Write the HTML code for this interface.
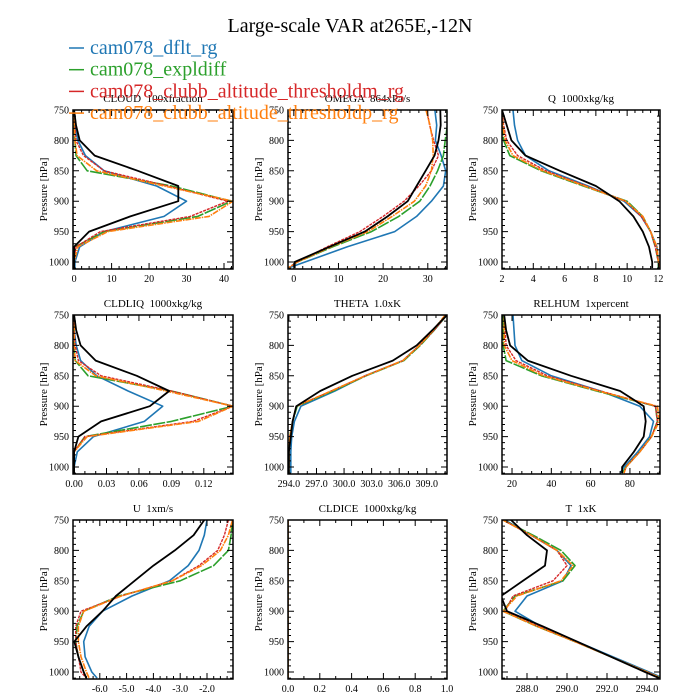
<!DOCTYPE html>
<html><head><meta charset="utf-8">
<style>
html,body{margin:0;padding:0;background:#fff;}
svg{display:block;font-family:"Liberation Serif","DejaVu Serif",serif;}
text{white-space:pre;}
</style></head>
<body>
<svg id="chart" width="700" height="700" viewBox="0 0 700 700" xmlns="http://www.w3.org/2000/svg">
<rect width="700" height="700" fill="#fff"/>
<text x="350" y="32" font-size="20" text-anchor="middle">Large-scale VAR at265E,-12N</text>
<g id="panels"></g>
<g id="legend"></g>
</svg>
<script>
const levels = [750,775,800,825,850,875,900,925,950,975,1000,1010];
const seriesNames = ["cam078_dflt_rg","cam078_expldiff","cam078_clubb_altitude_thresholdm_rg","cam078_clubb_altitude_thresholdp_rg"];

const cloudBlue   = [0,0.2,1,3,8,22,30,24,8,1.5,0.2,0.2];
const cloudGreen  = [0,0,0.2,0.5,3.5,26,42,33,8,0.3,0,0];
const cloudRed    = [0,0.2,0.5,2.5,8,25,41,31,7,0.5,0,0];
const cloudOrange = [0,0,0.2,0.8,6,24,42.4,36,9,1,0,0];
const cloudBlack  = [0,0.5,1.5,5.5,17,27.8,27.8,15,4,0,0,0];
const cloudTicks  = [0,10,20,30,40];

const omegaBlue   = [31.6,32,31.7,33,34,33.5,30.8,27.5,22.6,12,2.5,-1.3];
const omegaGreen  = [34.3,34.4,33.9,33.5,32.2,30.5,28.2,23.5,17.4,8.7,0.8,-1.3];
const omegaRed    = [29.8,30.4,31.3,32.4,30.8,28,24.7,20,14.8,7.5,0.8,-1.3];
const omegaOrange = [29.6,30.5,31.1,31.2,30.8,29.5,27,22,16.6,8.3,0.8,-1.3];
const omegaBlack  = [32.8,32.9,32.4,31.5,29.5,27.5,25.5,21,15.9,8,0.2,0.2];
const omegaTicks  = [0,10,20,30];

const qBlue   = [2.7,2.8,3.0,3.5,5.0,7.5,9.8,10.9,11.5,11.9,12.0,12.0];
const qGreen  = [2.0,2.0,2.1,2.5,4.5,7.2,10.0,11.0,11.5,11.8,12.0,12.0];
const qRed    = [2.0,2.1,2.3,3.0,4.8,7.4,9.9,10.9,11.5,11.8,12.0,12.1];
const qOrange = [2.0,2.05,2.2,2.7,4.6,7.3,9.9,11.0,11.5,11.9,12.0,12.1];
const qBlack  = [2.0,2.3,2.6,3.5,5.7,8.0,9.5,10.4,11.0,11.4,11.6,11.6];
const qTicks  = [2,4,6,8,10,12];

const liqBlue   = [0,0,0.002,0.006,0.021,0.05,0.082,0.065,0.018,0.003,0,0];
const liqGreen  = [0,0,0,0.001,0.013,0.09,0.147,0.09,0.01,0,0,0];
const liqRed    = [0,0,0.001,0.004,0.025,0.09,0.147,0.11,0.01,0,0,0];
const liqOrange = [0,0,0,0.001,0.02,0.085,0.147,0.115,0.012,0,0,0];
const liqBlack  = [0,0.002,0.006,0.02,0.058,0.088,0.07,0.025,0.004,0,0,0];
const liqTicks  = [0,0.03,0.06,0.09,0.12];

const thBlue   = [311.2,309.8,308.2,306.4,302.3,299.0,295.3,294.6,294.3,294.2,294.2,294.2];
const thGreen  = [311.2,309.8,308.3,306.5,302.4,298.8,294.9,294.4,294.1,294.0,294.0,294.0];
const thRed    = [311.2,309.8,308.2,306.4,302.3,298.6,294.8,294.4,294.1,294.0,294.0,294.0];
const thOrange = [311.0,309.7,308.2,306.4,302.3,298.6,294.8,294.4,294.1,294.0,294.0,293.9];
const thBlack  = [311.2,309.6,307.9,305.3,300.9,297.4,294.8,294.4,294.2,294.0,294.0,294.0];
const thTicks  = [294,297,300,303,306,309];

const rhBlue   = [20.5,21,21.5,25,40,65,85,92,90,84,77,75];
const rhGreen  = [15.5,15.5,15.5,17,35,63,93,94,91,85,78,76];
const rhRed    = [16,16.5,17,22,38,65,93,94,91,85,78,77];
const rhOrange = [16,16,16,20,36,64,94,95,91,85,78,77];
const rhBlack  = [16,17,19,28,50,75,87,88,87,82,76,76];
const rhTicks  = [20,40,60,80];

const uBlue   = [-2.0,-2.1,-2.3,-2.7,-3.4,-4.8,-5.9,-6.4,-6.6,-6.55,-6.3,-6.1];
const uGreen  = [-1.05,-1.1,-1.2,-1.75,-3.0,-5.3,-6.6,-6.85,-6.9,-6.8,-6.6,-6.5];
const uRed    = [-1.2,-1.35,-1.6,-2.3,-3.3,-5.2,-6.7,-6.9,-6.9,-6.8,-6.7,-6.5];
const uOrange = [-1.05,-1.2,-1.5,-2.2,-3.3,-5.2,-6.6,-6.8,-6.8,-6.7,-6.5,-6.4];
const uBlack  = [-2.1,-2.5,-3.2,-4.0,-4.7,-5.4,-5.9,-6.5,-6.95,-6.8,-6.6,-6.5];
const uTicks  = [-6,-5,-4,-3,-2];

const iceBlue   = [0,0,0,0,0,0,0,0,0,0,0,0];
const iceGreen  = [0,0,0,0,0,0,0,0,0,0,0,0];
const iceRed    = [0,0,0,0,0,0,0,0,0,0,0,0];
const iceOrange = [0,0,0,0,0,0,0,0,0,0,0,0];
const iceTicks  = [0,0.2,0.4,0.6,0.8,1.0];

const tBlue   = [286.9,288.2,289.5,290.2,289.8,288.0,287.4,288.7,290.5,292.3,294.1,294.8];
const tGreen  = [286.8,288.3,289.7,290.4,289.8,287.4,286.8,288.5,290.4,292.2,294.0,294.7];
const tRed    = [286.8,288.2,289.5,290.0,289.3,287.3,286.9,288.6,290.4,292.2,294.0,294.7];
const tOrange = [286.8,288.2,289.5,290.3,289.7,287.5,286.8,288.5,290.4,292.2,294.0,294.7];
const tBlack  = [287.2,288.0,289.0,288.9,287.8,286.7,287.0,288.8,290.5,292.2,293.9,294.6];
const tTicks  = [288,290,292,294];

const pTicks = [750,800,850,900,950,1000];

const NS = "http://www.w3.org/2000/svg";
const colors = ["#1f77b4","#2ca02c","#d62728","#ff7f0e","#000000"];
const dashes = ["", "12,1.5", "3,1", "6,1,1.5,1", ""];
const widths = [1.6,1.6,1.4,1.6,1.8];
const keys = ["blue","green","red","orange","black"];

const panels = [
 {name:"cloud", title:"CLOUD  100xfraction", col:0,row:0, xmin:-0.3,xmax:42.4, ticks:cloudTicks, minor:2, dec:0, s:[cloudBlue,cloudGreen,cloudRed,cloudOrange,cloudBlack]},
 {name:"omega", title:"OMEGA  864xPa/s", col:1,row:0, xmin:-1.3,xmax:34.3, ticks:omegaTicks, minor:2, dec:0, s:[omegaBlue,omegaGreen,omegaRed,omegaOrange,omegaBlack]},
 {name:"q", title:"Q  1000xkg/kg", col:2,row:0, xmin:2,xmax:12.1, ticks:qTicks, minor:0.5, dec:0, s:[qBlue,qGreen,qRed,qOrange,qBlack]},
 {name:"cldliq", title:"CLDLIQ  1000xkg/kg", col:0,row:1, xmin:-0.001,xmax:0.147, ticks:liqTicks, minor:0.01, dec:2, s:[liqBlue,liqGreen,liqRed,liqOrange,liqBlack]},
 {name:"theta", title:"THETA  1.0xK", col:1,row:1, xmin:293.9,xmax:311.2, ticks:thTicks, minor:1, dec:1, s:[thBlue,thGreen,thRed,thOrange,thBlack]},
 {name:"relhum", title:"RELHUM  1xpercent", col:2,row:1, xmin:14.9,xmax:95.3, ticks:rhTicks, minor:5, dec:0, s:[rhBlue,rhGreen,rhRed,rhOrange,rhBlack]},
 {name:"u", title:"U  1xm/s", col:0,row:2, xmin:-7.0,xmax:-1.03, ticks:uTicks, minor:0.25, dec:1, s:[uBlue,uGreen,uRed,uOrange,uBlack]},
 {name:"cldice", title:"CLDICE  1000xkg/kg", col:1,row:2, xmin:0,xmax:1.0, ticks:iceTicks, minor:0.1, dec:1, s:[iceBlue,iceGreen,iceRed,iceOrange,null]},
 {name:"t", title:"T  1xK", col:2,row:2, xmin:286.75,xmax:294.65, ticks:tTicks, minor:0.5, dec:1, s:[tBlue,tGreen,tRed,tOrange,tBlack]}
];
const lefts=[73,288,502], rights=[233,447,660], tops=[110,315,520];
const PMIN=750, PMAX=1011.5, PH=159;

function mk(tag, attrs, parent){const e=document.createElementNS(NS,tag);for(const k in attrs)e.setAttribute(k,attrs[k]);parent.appendChild(e);return e;}
const root=document.getElementById("panels");

panels.forEach(pn=>{
  const L=lefts[pn.col], R=rights[pn.col], T=tops[pn.row], B=T+PH;
  const xs=v=>L+(v-pn.xmin)/(pn.xmax-pn.xmin)*(R-L);
  const ys=p=>T+(p-PMIN)/(PMAX-PMIN)*PH;
  const g=mk("g",{},root);
  
  
  const title=mk("text",{x:(L+R)/2,y:T-8,"font-size":"11","text-anchor":"middle"},g);
  title.textContent=pn.title;
  
  
  const yl=mk("text",{x:0,y:0,"font-size":"11","text-anchor":"middle",transform:`translate(${L-26},${(T+B)/2}) rotate(-90)`},g);
  yl.textContent="Pressure [hPa]";
  
  
  const clip=mk("clipPath",{id:"clip-"+pn.name},g);
  mk("rect",{x:L,y:T,width:R-L,height:PH},clip);
  const lines=mk("g",{"clip-path":`url(#clip-${pn.name})`},g);
  pn.s.forEach((arr,i)=>{
    if(!arr) return;
    const pts=arr.map((v,j)=>xs(v).toFixed(1)+","+ys(levels[j]).toFixed(1)).join(" ");
    const pl=mk("polyline",{points:pts,fill:"none",stroke:colors[i],"stroke-width":widths[i],"stroke-linejoin":"round"},lines);
    if(dashes[i]) pl.setAttribute("stroke-dasharray",dashes[i]);
    
    
  });
  let tk="";
  for(let p=750;p<=1010;p+=10){const y=ys(p);const len=(p%50===0)?6:3;tk+=`M${L},${y}h${len}M${R},${y}h${-len}`;}
  const step=pn.minor;
  const start=Math.ceil(pn.xmin/step-1e-6);
  for(let k=start;k*step<=pn.xmax+1e-9;k++){const v=k*step;const x=xs(v);
    const major=pn.ticks.some(t=>Math.abs(t-v)<step/10);const len=major?6:3;
    tk+=`M${x},${B}v${-len}M${x},${T}v${len}`;}
  const tp=mk("path",{d:tk,stroke:"#000","stroke-width":"1",fill:"none"},g);
  
  
  const fr=mk("rect",{x:L,y:T,width:R-L,height:PH,fill:"none",stroke:"#000","stroke-width":"1.5"},g);
  
  
  pTicks.forEach(p=>{
    const t=mk("text",{x:L-4,y:ys(p)+3.5,"font-size":"10","text-anchor":"end"},g);
    t.textContent=String(p);
    
    
  });
  pn.ticks.forEach(v=>{
    const t=mk("text",{x:xs(v),y:B+13,"font-size":"10","text-anchor":"middle"},g);
    t.textContent=v.toFixed(pn.dec);
    
    
  });
});

const lg=document.getElementById("legend");
seriesNames.forEach((nm,i)=>{
  const y=54+i*21.7;
  const ln=mk("line",{x1:69,x2:84,y1:y-6,y2:y-6,stroke:colors[i],"stroke-width":"1.5"},lg);
  
  
  const t=mk("text",{x:90,y:y,"font-size":"20",fill:colors[i]},lg);
  t.textContent=nm;
  
  
});
</script>
</body></html>
